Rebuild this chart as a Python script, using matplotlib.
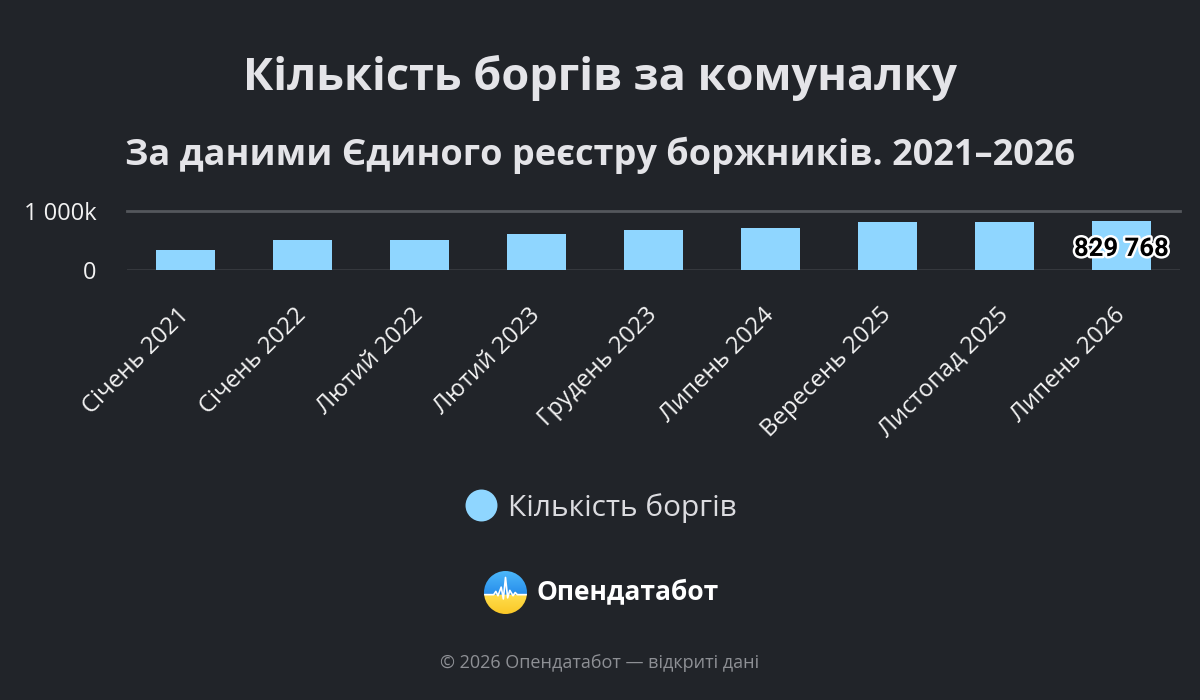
import numpy as np
import matplotlib.pyplot as plt
import matplotlib.patheffects as pe
import matplotlib.transforms as mtransforms
from matplotlib.lines import Line2D
from matplotlib.patches import Circle

months = ["Січень 2021", "Січень 2022", "Лютий 2022", "Лютий 2023", "Грудень 2023",
          "Липень 2024", "Вересень 2025", "Листопад 2025", "Липень 2026"]
debts = [340000, 505000, 505000, 605000, 675000, 710000, 810000, 810000, 829768]
y_ticks = [0, 1000000]
y_tick_labels = ["0", "1 000k"]

BG = "#212429"
BAR = "#8fd6ff"
plt.rcParams["font.family"] = ["Open Sans", "DejaVu Sans"]

fig = plt.figure(figsize=(12, 7), dpi=100, facecolor=BG)
ax = fig.add_axes([127 / 1200, 1 - 270 / 700, 1053 / 1200, 59 / 700])
ax.set_facecolor(BG)

x = np.arange(len(months))
ax.bar(x, debts, width=0.5, color=BAR, zorder=3)

ax.set_xlim(-0.5, len(months) - 0.5)
ax.set_ylim(0, 1000000)
for s in ax.spines.values():
    s.set_visible(False)
ax.axhline(0, color="#383b40", lw=2, zorder=2)
ax.axhline(1000000, color="#54575c", lw=2, zorder=2, clip_on=False)

ax.set_yticks(y_ticks)
ax.set_yticklabels(y_tick_labels)
ax.set_xticks(x)
ax.set_xticklabels(months, rotation=45, ha="right", rotation_mode="anchor")
ax.tick_params(axis="y", length=0, pad=22, labelsize=17, labelcolor="#f2f2f2")
ax.tick_params(axis="x", length=0, pad=16, labelsize=17.3, labelcolor="#f2f2f2")
shift = mtransforms.ScaledTranslation(-8 / 100, -11 / 100, fig.dpi_scale_trans)
for lbl in ax.get_xticklabels():
    lbl.set_transform(lbl.get_transform() + shift)

ax.text(x[-1], debts[-1] * 0.43, "829 768", ha="center", va="center",
        fontsize=18.5, fontweight="bold", color="black", family=["Roboto", "DejaVu Sans"],
        path_effects=[pe.withStroke(linewidth=3.5, foreground="white")], zorder=5)

fig.text(0.5, 1 - 78 / 700, "Кількість боргів за комуналку", ha="center", va="center",
         fontsize=32.5, fontweight="bold", color="#e4e4e8")
fig.text(0.5, 1 - 155 / 700, "За даними Єдиного реєстру боржників. 2021–2026", ha="center",
         va="center", fontsize=26, fontweight="bold", color="#e4e4e8")

handle = Line2D([], [], marker="o", ls="none", markersize=23, markerfacecolor=BAR,
                markeredgecolor="none")
fig.legend([handle], ["Кількість боргів"], loc="center", bbox_to_anchor=(0.5, 1 - 508 / 700),
           frameon=False, fontsize=21.5, labelcolor="#dcdce0", handletextpad=0.3,
           handlelength=1.2)

# logo
lax = fig.add_axes([484 / 1200, 1 - 614 / 700, 43 / 1200, 43 / 700])
lax.set_axis_off()
grad = np.zeros((100, 1, 3))
top = np.array([0.30, 0.72, 0.98])
top2 = np.array([0.15, 0.55, 0.92])
bot = np.array([1.0, 0.87, 0.30])
bot2 = np.array([0.98, 0.78, 0.15])
for i in range(100):
    if i < 55:
        grad[i, 0] = top + (top2 - top) * (i / 55)
    else:
        grad[i, 0] = bot + (bot2 - bot) * ((i - 55) / 45)
im = lax.imshow(grad, extent=(-1, 1, -1, 1), aspect="auto", origin="upper")
circ = Circle((0, 0), 1, transform=lax.transData, fc="none", ec="none")
lax.add_patch(circ)
im.set_clip_path(circ)
pulse_x = [-1, -0.55, -0.45, -0.35, -0.2, -0.1, 0.0, 0.1, 0.2, 0.35, 0.45, 0.55, 1]
pulse_y = [-0.1, -0.1, 0.05, -0.15, 0.25, -0.3, 0.7, -0.25, 0.1, -0.15, 0.0, -0.1, -0.1]
ln, = lax.plot(pulse_x, pulse_y, color="white", lw=1.2)
ln.set_clip_path(circ)
lax.set_xlim(-1, 1)
lax.set_ylim(-1, 1)

fig.text(536 / 1200, 1 - 592 / 700, "Опендатабот", ha="left", va="center", fontsize=19,
         fontweight="bold", color="white")
fig.text(0.5, 1 - 663 / 700, "© 2026 Опендатабот — відкриті дані", ha="center", va="center",
         fontsize=13, color="#8e9095")

fig.savefig("out.png", dpi=100, facecolor=BG)
